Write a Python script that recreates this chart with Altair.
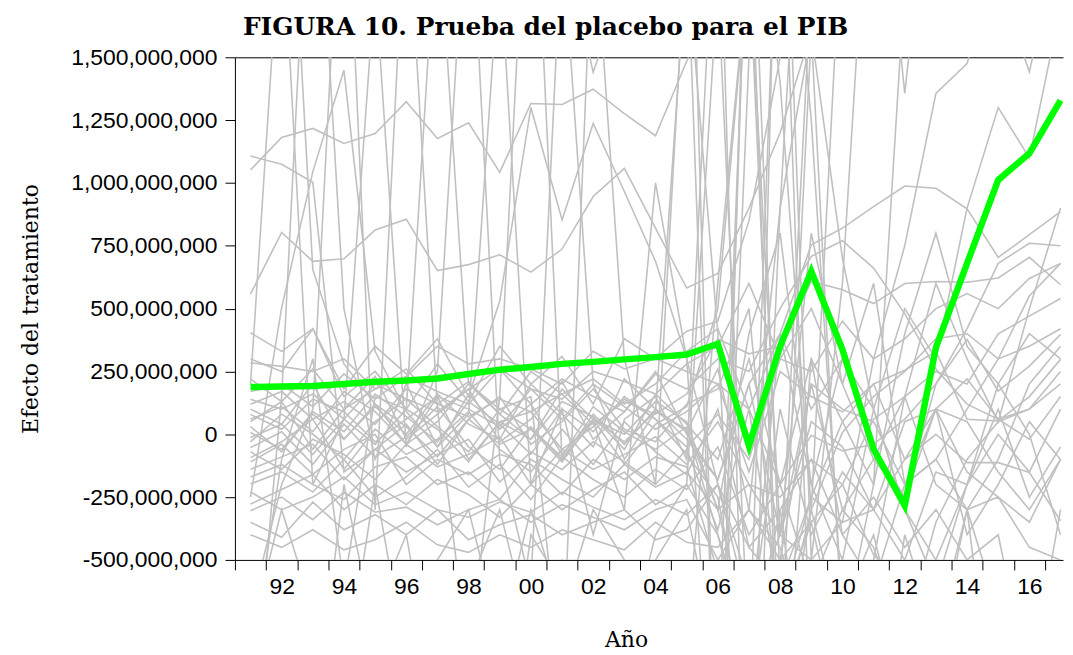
import altair as alt
import pandas as pd

ANIOS = list(range(1991, 2018))

# efecto estimado (millones) para la unidad tratada
TRATADO = [188, 190, 192, 200, 209, 214, 222, 240, 257, 268, 280, 288, 298, 307, 317,
           360, -46, 350, 648, 337, -60, -284, 345, 680, 1012, 1118, 1329]

# placebos (millones), 1991..2017
P01 = [1052, 1181, 1217, 1157, 1197, 1323, 1177, 1239, 1042, 1316, 1312, 1373, 1276, 1188, 1484, 1750, 1900, 2300, 1850, 2400, 2100, 2600, 1900, 2200, 2500, 2300, 2700]
P02 = [1107, 1074, 1003, -150, -60, 40, -120, 60, -40, 20, -90, 110, 10, -60, 30, -400, -900, -300, -1200, -700, -400, -900, -600, -700, -800, -1000, -800]
P03 = [558, 803, 688, 698, 813, 856, 651, 675, 714, 645, 737, 946, 1058, 820, 582, 640, 900, 1200, 1600, 1700, 1800, 1900, 2000, 2100, 2200, 2300, 2400]
P04 = [300, 250, 420, 180, 350, 240, 380, 150, 530, 1300, 853, 1237, 966, 688, 300, -200, -700, -400, 200, -300, -100, -250, 100, 50, -150, -300, -100]
P05 = [-250, 504, 1045, 1448, 330, 90, -50, 160, 20, 120, -80, 60, -30, 90, 20, -300, -800, 400, -200, -500, 100, -300, -600, -200, 200, 0, -400]
P06 = [2600, 2900, 655, 280, 120, -40, 150, -100, 50, -20, 180, 60, -120, 40, 110, 500, 1900, -400, 800, 200, 600, -200, 100, -150, -250, -350, -100]
P07 = [404, 330, 420, 150, 250, 100, 280, 130, 350, 200, 310, 120, 380, 300, 410, 450, 850, 1500, 2100, 1800, 2300, 1900, 2600, 2400, 2100, 2500, 2800]
P08 = [284, 270, 250, 300, 180, 230, 350, 280, 300, 260, 200, 330, 260, 300, 250, 200, 100, 400, 754, 820, 906, 988, 979, 897, 704, 794, 886]
P09 = [139, 100, 160, 60, 200, 140, 90, 180, 260, 120, 220, 150, 90, 240, 180, 300, 250, 500, 708, 770, 661, 480, 260, 120, 60, 100, 250]
P10 = [119, 170, 60, 130, 40, 180, 120, 70, 140, 90, 160, 40, 130, 80, 160, 380, 320, 350, 608, 575, 520, 600, 608, 605, 622, 704, 595]
P11 = [79, 20, 140, 90, -30, 60, 150, 100, 30, 180, 60, 200, 110, 20, 90, 200, -150, 250, 150, 89, 200, 255, 330, 60, 53, 150, 298]
P12 = [60, 110, 10, 170, 90, -40, 50, 200, 80, -20, 130, 70, -60, 160, 40, -100, 300, -200, -4, -66, -40, 60, 200, 420, 680, 760, 750]
P13 = [7, -60, 80, -20, 120, 30, -90, 60, 150, -40, 50, 180, 20, -30, 120, 180, 500, -800, -300, 7, 150, 250, 380, 400, 300, 350, 420]
P14 = [-13, 40, -80, 60, -40, 100, 20, -110, 50, 90, -60, 30, 140, 60, -80, -250, -900, -500, 200, 100, 50, -200, -100, 100, 300, 550, 680]
P15 = [-53, 10, -120, 40, -90, -10, 110, -50, -140, 30, -100, 80, -40, 100, -20, -180, 200, 400, 100, 300, -50, -250, 200, 377, 172, 271, 397]
P16 = [-93, -30, 60, -140, 20, -80, -20, 90, -60, -150, 20, -120, 50, -70, -160, 100, -450, -300, -100, -200, 60, 150, 250, 200, 400, 470, 540]
P17 = [-139, -90, -40, -180, -60, -150, -80, -20, -190, -70, -140, -30, -110, -200, -60, -380, 100, -700, -250, 50, 200, -100, 0, -113, -113, -152, -344]
P18 = [-198, -150, -230, -100, -250, -170, -60, -210, -120, -260, -90, -180, -250, -140, -220, -50, -400, -200, -600, -300, -450, -800, -350, -100, 50, 100, 200]
P19 = [-278, -220, -160, -300, -200, -280, -180, -240, -330, -200, -300, -220, -150, -280, -200, -400, -800, 100, -400, -150, -300, 50, 100, 220, 60, -20, 150]
P20 = [-304, -250, -340, -230, -310, -290, -360, -300, -260, -350, -280, -330, -380, -300, -260, -500, -300, -450, -900, -700, -1200, -400, -800, -600, -1100, -700, -500]
P21 = [-350, -410, -270, -380, -320, -400, -300, -420, -360, -320, -400, -350, -300, -420, -380, -200, -600, -1000, -300, -800, -500, -1200, -900, -300, -1300, -900, -600]
P22 = [170, 200, 110, 240, 140, 230, 170, 120, 260, 180, 140, 250, 210, 160, 280, 350, 600, 300, 250, 450, 300, 380, 500, 560, 500, 620, 680]
P23 = [30, -70, 90, 10, 160, 70, -30, 130, 40, -80, 100, 10, 150, 60, -50, 80, -100, 300, 500, 200, -100, 150, -200, -300, -100, 200, 350]
P24 = [-30, 80, 0, -100, 50, 140, 30, -70, 100, 20, -110, 60, 0, 130, 50, -300, 400, 800, -200, 300, 100, -300, -500, -200, 0, -150, 100]
P25 = [100, 40, 200, -20, 110, 0, 160, 40, -20, 200, 80, -50, 220, 100, 10, 260, -300, 900, 1600, 700, 100, 500, 300, 900, 1300, 1100, 1700]
P26 = [-70, -140, -20, -80, -180, -40, -130, -80, -10, -200, -60, -140, -80, -10, -120, 50, -200, -400, -500, -350, 300, 750, 1356, 1475, 1900, 2100, 2300]
P27 = [-110, -40, -160, -60, 0, -200, -100, -160, -80, -120, -240, -100, -180, -90, -130, -550, -1100, -700, -350, -900, -500, 150, 600, 300, 50, 500, 900]
P28 = [220, 130, 260, 100, 180, 260, 120, 210, 80, 250, 160, 220, 120, 200, 330, 420, 100, -200, 300, 50, -200, 400, 800, 350, 200, 400, 300]
P29 = [50, 130, -60, 100, 230, -20, 80, 180, -30, 60, 210, -20, 90, 250, 0, -180, 200, -400, 50, -50, -300, -100, 100, -400, -200, 50, -100]
P30 = [-170, -120, -200, -260, -130, -90, -200, -150, -260, -100, -180, -250, -120, -210, -150, -300, -200, -250, -100, -400, -250, -450, -300, -500, -400, -1000, -300]
P31 = [-230, -300, -250, -170, -280, -230, -300, -330, -270, -310, -230, -290, -340, -260, -320, -200, -450, -600, -250, -350, -300, -500, -150, -200, 100, -250, -50]
P32 = [-400, -450, -380, -460, -420, -350, -440, -470, -400, -450, -380, -420, -460, -350, -430, -450, -300, -500, -350, -200, -480, -600, -800, -300, -250, -450, -500]
P33 = [-1200, 150, 2600, 500, -100, 200, -50, 80, 1900, -200, 100, -400, 60, 150, -100, 2400, -1800, 900, 3000, 2500, 2000, 2600, 2100, 2400, 2800, 2300, 2600]
P34 = [-700, -200, 100, 2500, -300, 2200, 100, -900, 150, 2600, -100, 50, -300, 1000, 300, -1500, 2500, -600, 1800, 2200, 2100, 1800, 2000, 2300, 1900, 2200, 2000]
P35 = [200, 2100, -200, 60, 1800, -50, 250, 2300, -100, -600, 2000, 200, -100, 90, 1900, 400, -2000, 2800, -500, 600, 2600, 1356, 2500, 1700, 1800, 1442, 2000]
P36 = [-900, -100, 300, -600, 150, 100, 2100, 200, 100, 150, -1000, 2100, 300, -200, 2000, -1400, 1500, 2600, 1250, -700, -900, -1200, -800, -1000, -1300, -900, -1100]
P37 = [-1500, -800, -600, -900, -700, -400, -1100, -600, -300, -800, -500, -700, -900, -400, -200, 1800, -900, 2500, -1000, -800, -700, -1000, -1200, -2000, -800, -1500, -1000]
P38 = [-600, -900, -1200, -200, -800, -1000, -500, -700, -1300, -400, -600, -1100, -800, -500, -300, -900, 2200, -1200, 300, -400, -600, -200, -100, -300, -700, -900, -800]
P39 = [1800, 2400, 1900, 2600, 2100, 1700, 2800, 2200, 1900, 2500, 2000, 1440, 1800, 2600, 2900, -1500, 2400, 1400, -300, 2100, 2400, 2000, 2300, 2500, 2200, 2400, 1800]
P40 = [-800, -300, -700, -1000, -200, -900, -500, -300, -800, -300, -700, -300, -500, -1100, -800, 600, 1900, -900, 1600, -800, -200, 1800, 2200, 2000, 2300, 1900, 2100]

PLACEBOS = [P01, P02, P03, P04, P05, P06, P07, P08, P09, P10,
            P11, P12, P13, P14, P15, P16, P17, P18, P19, P20,
            P21, P22, P23, P24, P25, P26, P27, P28, P29, P30,
            P31, P32, P33, P34, P35, P36, P37, P38, P39, P40]

Y_TICKS = [-500e6, -250e6, 0, 250e6, 500e6, 750e6, 1000e6, 1250e6, 1500e6]

filas = []
for i, serie in enumerate(PLACEBOS, start=1):
    for anio, valor in zip(ANIOS, serie):
        filas.append({"anio": anio, "efecto": valor * 1e6, "unidad": f"p{i:02d}"})
df_placebo = pd.DataFrame(filas)
df_tratado = pd.DataFrame({"anio": ANIOS, "efecto": [v * 1e6 for v in TRATADO]})

SANS = "Liberation Sans"
SERIF = "DejaVu Serif"

x_scale = alt.Scale(domain=[1990.5, 2017.08], nice=False, zero=False)
y_scale = alt.Scale(domain=[-500e6, 1500e6], nice=False)

x_axis = alt.Axis(
    values=[a - 0.5 for a in ANIOS],
    labelExpr="(datum.value + 0.5) % 2 == 0 ? format((datum.value + 0.5) % 100, '02d') : ''",
    labelOffset=15.65,
    labelOverlap=False,
    labelFlush=False,
    labelFont=SANS,
    labelFontSize=23,
    labelColor="black",
    labelPadding=6,
    tickSize=10,
    tickColor="black",
    domainColor="black",
    grid=False,
    title="Año",
    titleFont=SERIF,
    titleFontSize=22,
    titleFontWeight="normal",
    titleColor="black",
    titleX=393,
    titleY=80,
    titleBaseline="middle",
    titleAlign="center",
)

x_axis_top = alt.Axis(orient="top", labels=False, ticks=False, domainColor="black",
                      grid=False, title=None)

y_axis = alt.Axis(
    values=Y_TICKS,
    labelExpr="(datum.value < 0 ? '-' : '') + format(abs(datum.value), ',')",
    labelFont=SANS,
    labelFontSize=23,
    labelColor="black",
    labelPadding=8,
    tickSize=10,
    tickColor="black",
    domainColor="black",
    grid=False,
    title="Efecto del tratamiento",
    titleFont=SERIF,
    titleFontSize=22,
    titleFontWeight="normal",
    titleColor="black",
    titleX=-205,
    titleBaseline="middle",
)

placebos = alt.Chart(df_placebo).mark_line(
    color="#c0c0c0", strokeWidth=1.6, clip=True
).encode(
    x=alt.X("anio:Q", scale=x_scale, axis=x_axis),
    y=alt.Y("efecto:Q", scale=y_scale, axis=y_axis),
    detail="unidad:N",
)

tratado = alt.Chart(df_tratado).mark_line(
    color="#00ff00", strokeWidth=6.5, clip=True
).encode(
    x=alt.X("anio:Q", scale=x_scale, axis=x_axis_top),
    y=alt.Y("efecto:Q", scale=y_scale, axis=y_axis),
)

chart = alt.layer(placebos, tratado).resolve_axis(
    x="independent"
).properties(
    width=832,
    height=505,
    padding={"left": 11, "top": 6, "right": 2, "bottom": 0},
    title=alt.TitleParams(
        "FIGURA 10. Prueba del placebo para el PIB",
        font=SERIF,
        fontSize=25,
        fontWeight="bold",
        color="black",
        anchor="start",
        frame="group",
        dx=8,
        offset=6,
    ),
).configure_view(
    strokeWidth=0,
)

chart.save("out.html", embed_options={"renderer": "svg", "actions": False})
